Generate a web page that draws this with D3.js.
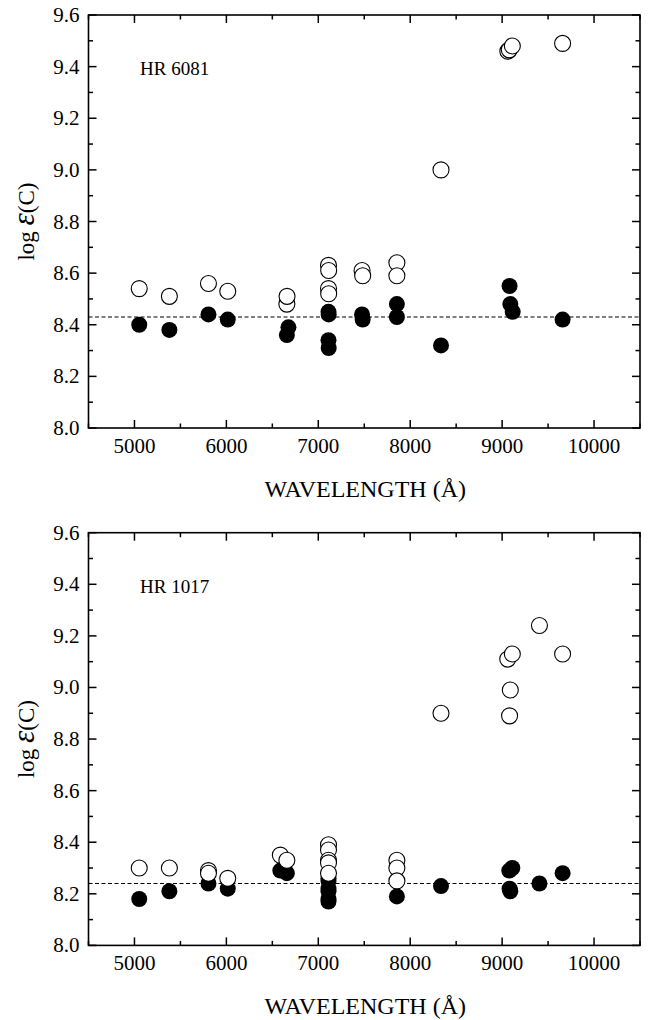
<!DOCTYPE html>
<html><head><meta charset="utf-8">
<script src="https://cdn.jsdelivr.net/npm/d3@7"></script>
<style>body{margin:0;background:#fff;} text{font-family:"Liberation Serif";fill:#000;}</style>
</head><body><svg id="c" width="649" height="1020"></svg>
<script>
// ---- Data: HR 6081 ----
const hr6081OpenWl  = [5052,5380,5805,6015,6658,6660,7111,7113,7111,7113,7476,7483,7855,7855,8335,9062,9078,9111,9658];
const hr6081OpenVal = [8.54,8.51,8.56,8.53,8.48,8.51,8.63,8.61,8.54,8.52,8.61,8.59,8.64,8.59,9.00,9.46,9.465,9.48,9.49];
const hr6081FillWl  = [5052,5380,5805,6015,6658,6675,7111,7113,7111,7113,7476,7483,7855,7855,8335,9081,9089,9115,9658];
const hr6081FillVal = [8.40,8.38,8.44,8.42,8.36,8.39,8.45,8.44,8.34,8.31,8.44,8.42,8.48,8.43,8.32,8.55,8.48,8.45,8.42];
const hr6081Solar = 8.43;
// ---- Data: HR 1017 ----
const hr1017OpenWl  = [5052,5380,5805,5805,6015,6587,6658,7111,7111,7111,7111,7111,7855,7855,7855,8335,9061,9081,9089,9111,9406,9658];
const hr1017OpenVal = [8.30,8.30,8.29,8.28,8.26,8.35,8.33,8.39,8.37,8.33,8.32,8.28,8.33,8.30,8.25,8.90,9.11,8.89,8.99,9.13,9.24,9.13];
const hr1017FillWl  = [5052,5380,5805,6015,6587,6658,7111,7111,7111,7111,7111,7111,7855,8335,9078,9111,9081,9089,9406,9658];
const hr1017FillVal = [8.18,8.21,8.24,8.22,8.29,8.28,8.26,8.25,8.22,8.21,8.18,8.17,8.19,8.23,8.29,8.30,8.22,8.21,8.24,8.28];
const hr1017Solar = 8.24;
// ---- Axes ----
const xDomain = [4500, 10500];
const yDomain = [8.0, 9.6];
const xTicks = [5000,6000,7000,8000,9000,10000];
const yTicks = [8.0,8.2,8.4,8.6,8.8,9.0,9.2,9.4,9.6];
const xLabel = "WAVELENGTH (Å)";

const svg = d3.select("#c");
const L = 88.5, R = 640;
const x = d3.scaleLinear().domain(xDomain).range([L, R]);

const panels = [
  {name:"HR 6081", top:15, bot:428, ow:hr6081OpenWl, ov:hr6081OpenVal, fw:hr6081FillWl, fv:hr6081FillVal, solar:hr6081Solar},
  {name:"HR 1017", top:532.7, bot:945.4, ow:hr1017OpenWl, ov:hr1017OpenVal, fw:hr1017FillWl, fv:hr1017FillVal, solar:hr1017Solar}
];

const xMinor = d3.range(4500, 10501, 500);
const yMinor = d3.range(0, 17).map(i => +(8 + i*0.1).toFixed(1));

panels.forEach(p => {
  const y = d3.scaleLinear().domain(yDomain).range([p.bot, p.top]);
  const g = svg.append("g");
  const major = 8, minor = 4.5;
  xMinor.forEach(v => {
    const len = (v % 1000 === 0) ? major : minor;
    g.append("line").attr("x1", x(v)).attr("x2", x(v)).attr("y1", p.bot).attr("y2", p.bot - len).attr("stroke","#000").attr("stroke-width",1.5);
    g.append("line").attr("x1", x(v)).attr("x2", x(v)).attr("y1", p.top).attr("y2", p.top + len).attr("stroke","#000").attr("stroke-width",1.5);
  });
  yMinor.forEach((v,i) => {
    const len = (i % 2 === 0) ? major : minor;
    g.append("line").attr("x1", L).attr("x2", L + len).attr("y1", y(v)).attr("y2", y(v)).attr("stroke","#000").attr("stroke-width",1.5);
    g.append("line").attr("x1", R).attr("x2", R - len).attr("y1", y(v)).attr("y2", y(v)).attr("stroke","#000").attr("stroke-width",1.5);
  });
  g.append("rect").attr("x", L).attr("y", p.top).attr("width", R-L).attr("height", p.bot-p.top)
    .attr("fill","none").attr("stroke","#000").attr("stroke-width",1.6);
  xTicks.forEach(v => g.append("text").attr("x", x(v)).attr("y", p.bot + 25).attr("text-anchor","middle").attr("font-size",21).text(v));
  yTicks.forEach(v => g.append("text").attr("x", L - 9).attr("y", y(v) + 7).attr("text-anchor","end").attr("font-size",21).text(v.toFixed(1)));
  g.append("text").attr("x", (L+R)/2 + 1).attr("y", p.bot + 69).attr("text-anchor","middle").attr("font-size",24).text(xLabel);
  const yl = g.append("text").attr("transform", `translate(34,${(p.top+p.bot)/2}) rotate(-90)`).attr("text-anchor","middle").attr("font-size",23);
  yl.append("tspan").text("log ");
  yl.append("tspan").attr("font-size",31).attr("font-style","italic").text("ε");
  yl.append("tspan").text("(C)");
  g.append("text").attr("x", 140).attr("y", p.top + 60).attr("font-size",19).text(p.name);
  g.append("line").attr("x1", L).attr("x2", R).attr("y1", y(p.solar)).attr("y2", y(p.solar))
    .attr("stroke","#000").attr("stroke-width",1).attr("stroke-dasharray","4,2.5");
  const open = p.ow.map((w,i)=>({w, v:p.ov[i]}));
  const fill = p.fw.map((w,i)=>({w, v:p.fv[i]}));
  g.selectAll(null).data(fill).enter().append("circle").attr("cx", d=>x(d.w)).attr("cy", d=>y(d.v)).attr("r",8).attr("fill","#000");
  g.selectAll(null).data(open).enter().append("circle").attr("cx", d=>x(d.w)).attr("cy", d=>y(d.v)).attr("r",8).attr("fill","#fff").attr("stroke","#000").attr("stroke-width",1.1);
});
</script></body></html>
